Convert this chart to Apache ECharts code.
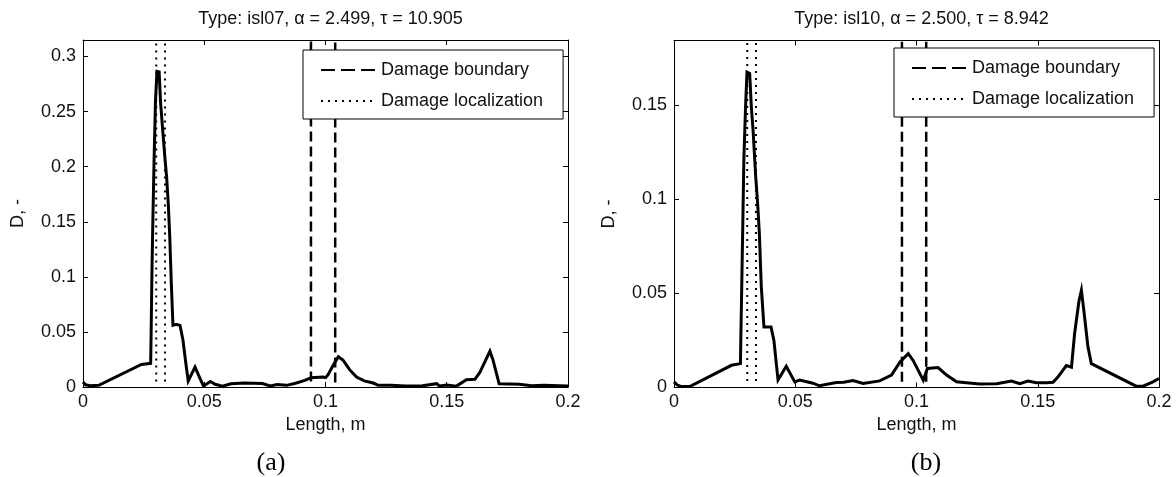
<!DOCTYPE html>
<html>
<head>
<meta charset="utf-8">
<script src="https://cdn.jsdelivr.net/npm/echarts@6/dist/echarts.min.js"></script>
<style>
html,body{margin:0;padding:0;background:#fff;}
#c{width:1176px;height:477px;}
</style>
</head>
<body>
<div id="c"></div>
<script>
// ---- data ----
const xTicks = [0, 0.05, 0.1, 0.15, 0.2];

const titleA = 'Type: isl07, \u03B1 = 2.499, \u03C4 = 10.905';
const titleB = 'Type: isl10, \u03B1 = 2.500, \u03C4 = 8.942';
const captionA = '(a)';
const captionB = '(b)';
const xName = 'Length, m';
const yName = 'D, -';
const legendNames = ['Damage boundary', 'Damage localization'];

const yMaxA = 0.315;
const yMaxB = 0.1845;

const lengthA = [0.0000,0.0010,0.0030,0.0065,0.0241,0.0279,0.0281,0.0284,0.0288,0.0293,0.0299,0.0305,0.0314,0.0320,0.0327,0.0337,0.0345,0.0352,0.0358,0.0364,0.0371,0.0385,0.0400,0.0412,0.0425,0.0434,0.0462,0.0480,0.0497,0.0525,0.0545,0.0575,0.0610,0.0665,0.0740,0.0772,0.0800,0.0840,0.0880,0.0915,0.0940,0.0990,0.1000,0.1010,0.1030,0.1053,0.1072,0.1100,0.1128,0.1160,0.1197,0.1217,0.1270,0.1330,0.1400,0.1458,0.1470,0.1500,0.1540,0.1581,0.1616,0.1637,0.1678,0.1690,0.1716,0.1800,0.1850,0.1900,0.2000];
const damageA = [0.0045,0.0020,0.0012,0.0015,0.0205,0.0215,0.0500,0.1000,0.1500,0.2050,0.2600,0.2865,0.2860,0.2580,0.2380,0.2100,0.1900,0.1650,0.1350,0.0950,0.0560,0.0570,0.0560,0.0430,0.0200,0.0055,0.0180,0.0090,0.0008,0.0050,0.0025,0.0008,0.0030,0.0036,0.0032,0.0010,0.0022,0.0015,0.0036,0.0060,0.0085,0.0090,0.0085,0.0110,0.0190,0.0275,0.0245,0.0155,0.0090,0.0055,0.0036,0.0015,0.0015,0.0010,0.0012,0.0030,0.0010,0.0018,0.0008,0.0066,0.0070,0.0135,0.0325,0.0250,0.0030,0.0025,0.0012,0.0015,0.0010];

const lengthB = [0.0000,0.0015,0.0031,0.0065,0.0237,0.0274,0.0276,0.0280,0.0284,0.0288,0.0295,0.0301,0.0312,0.0319,0.0326,0.0337,0.0345,0.0352,0.0360,0.0371,0.0400,0.0412,0.0429,0.0463,0.0498,0.0518,0.0573,0.0600,0.0669,0.0700,0.0738,0.0780,0.0848,0.0897,0.0932,0.0966,0.0986,0.1028,0.1045,0.1089,0.1124,0.1165,0.1206,0.1261,0.1330,0.1392,0.1426,0.1460,0.1495,0.1535,0.1563,0.1583,0.1618,0.1639,0.1652,0.1670,0.1680,0.1690,0.1707,0.1721,0.1906,0.1934,0.1975,0.2000];
const damageB = [0.0030,0.0012,0.0005,0.0005,0.0118,0.0127,0.0290,0.0590,0.0890,0.1207,0.1490,0.1677,0.1670,0.1490,0.1370,0.1120,0.0977,0.0818,0.0535,0.0322,0.0322,0.0250,0.0040,0.0113,0.0030,0.0040,0.0023,0.0009,0.0027,0.0028,0.0037,0.0022,0.0035,0.0066,0.0136,0.0180,0.0144,0.0039,0.0101,0.0106,0.0066,0.0030,0.0025,0.0018,0.0020,0.0034,0.0020,0.0034,0.0025,0.0025,0.0028,0.0055,0.0117,0.0108,0.0287,0.0460,0.0517,0.0410,0.0216,0.0127,0.0007,0.0007,0.0030,0.0048];

// vertical marker lines: x position and lower end
const boundaryX = [0.094, 0.104];
const boundaryBottomA = [0.005, 0.004];
const boundaryBottomB = [0.003, 0.003];
const localX = [0.0302, 0.0338];
const localBottomA = [0.005, 0.005];
const localBottomB = [0.0035, 0.0035];

// ---- build ----
const FONT = 'Liberation Sans, Arial, sans-serif';
const zip = (xs, ys) => xs.map((x, i) => [x, ys[i]]);

const grids = [
  {left: 83, top: 40, width: 485, height: 347},
  {left: 674, top: 40.5, width: 485, height: 347}
];

function xAxes(gi) {
  const base = {
    type: 'value', gridIndex: gi, min: 0, max: 0.2, interval: 0.05,
    splitLine: {show: false},
    axisLine: {show: true, onZero: false, lineStyle: {color: '#000', width: 1}},
    axisTick: {show: true, inside: true, length: 5, lineStyle: {color: '#000'}}
  };
  return [
    Object.assign({}, base, {
      position: 'bottom',
      name: xName, nameLocation: 'middle', nameGap: 18,
      nameTextStyle: {fontSize: 18, fontFamily: FONT, color: '#111'},
      axisLabel: {fontSize: 18, fontFamily: FONT, color: '#111', margin: 6}
    }),
    Object.assign({}, base, {position: 'top', axisLabel: {show: false}})
  ];
}
function yAxes(gi, ymax) {
  const base = {
    type: 'value', gridIndex: gi, min: 0, max: ymax, interval: 0.05,
    splitLine: {show: false},
    axisLine: {show: true, onZero: false, lineStyle: {color: '#000', width: 1}},
    axisTick: {show: true, inside: true, length: 5, lineStyle: {color: '#000'}}
  };
  return [
    Object.assign({}, base, {
      position: 'left',
      name: yName, nameLocation: 'middle', nameGap: 56,
      nameTextStyle: {fontSize: 18, fontFamily: FONT, color: '#111'},
      axisLabel: {fontSize: 18, fontFamily: FONT, color: '#111', margin: 7, showMaxLabel: false}
    }),
    Object.assign({}, base, {position: 'right', axisLabel: {show: false}})
  ];
}

function vline(name, x, bottom, ymax, xi, yi, style) {
  return {
    type: 'line', name: name, xAxisIndex: xi, yAxisIndex: yi,
    data: [[x, bottom], [x, ymax]],
    showSymbol: false, symbol: 'none', animation: false, silent: true,
    itemStyle: {color: '#000'},
    lineStyle: style
  };
}

const dashStyle = {color: '#000', width: 2.5, type: [10, 5]};
const dotStyle = {color: '#000', width: 2, type: [2, 5]};
const curveStyle = {color: '#000', width: 3, join: 'miter'};

const series = [];
[[lengthA, damageA, yMaxA, boundaryBottomA, localBottomA, 0], [lengthB, damageB, yMaxB, boundaryBottomB, localBottomB, 1]].forEach(([xs, ys, ymax, bb, lb, gi]) => {
  const xi = gi * 2, yi = gi * 2;
  series.push({
    type: 'line', name: 'D', xAxisIndex: xi, yAxisIndex: yi,
    data: zip(xs, ys), showSymbol: false, symbol: 'none', animation: false,
    itemStyle: {color: '#000'},
    lineStyle: curveStyle, z: 2
  });
  boundaryX.forEach((x, i) => series.push(vline(legendNames[0], x, bb[i], ymax, xi, yi, dashStyle)));
  localX.forEach((x, i) => series.push(vline(legendNames[1], x, lb[i], ymax, xi, yi, dotStyle)));
});

function legend(left, top) {
  return {
    left: left, top: top, orient: 'vertical',
    data: [
      {name: legendNames[0], lineStyle: {type: [14, 6]}},
      {name: legendNames[1]}
    ],
    padding: [11, 20, 9, 17], itemGap: 13, itemWidth: 55, itemHeight: 14,
    backgroundColor: '#fff', borderColor: '#000', borderWidth: 1,
    selectedMode: false,
    itemStyle: {opacity: 0, color: 'rgba(0,0,0,0)', borderWidth: 0},
    textStyle: {fontSize: 18, fontFamily: FONT, color: '#111'}
  };
}

const option = {
  backgroundColor: '#fff',
  animation: false,
  title: [
    {text: titleA, left: 325.5, top: 5, textAlign: 'center', textStyle: {fontSize: 18, fontWeight: 'normal', fontFamily: FONT, color: '#111'}},
    {text: titleB, left: 916.5, top: 5, textAlign: 'center', textStyle: {fontSize: 18, fontWeight: 'normal', fontFamily: FONT, color: '#111'}},
    {text: captionA, left: 266, top: 445, textAlign: 'center', textStyle: {fontSize: 26, fontWeight: 'normal', fontFamily: 'Liberation Serif, Times New Roman, serif', color: '#000'}},
    {text: captionB, left: 921, top: 445, textAlign: 'center', textStyle: {fontSize: 26, fontWeight: 'normal', fontFamily: 'Liberation Serif, Times New Roman, serif', color: '#000'}}
  ],
  legend: [legend(303, 50), legend(894, 48)],
  grid: grids,
  xAxis: xAxes(0).concat(xAxes(1)),
  yAxis: yAxes(0, yMaxA).concat(yAxes(1, yMaxB)),
  series: series
};

const chart = echarts.init(document.getElementById('c'), null, {renderer: 'canvas'});
chart.setOption(option);
</script>
</body>
</html>
